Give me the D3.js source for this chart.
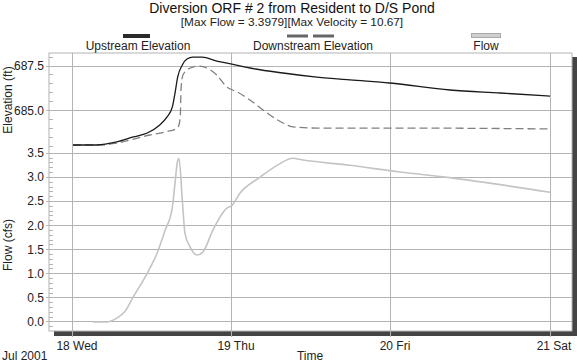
<!DOCTYPE html>
<html lang="en">
<head>
<meta charset="UTF-8">
<title>Diversion ORF # 2</title>
<style>
  body { margin: 0; background: #fff; }
  svg { display: block; font-family: "Liberation Sans", Arial, sans-serif; }
</style>
</head>
<body>
<div id="chart"></div>
<script src="https://cdn.jsdelivr.net/npm/d3@7/dist/d3.min.js"></script>
<script>
"use strict";

// hours after 18 Jul 2001 00:00
var upHours   = [0, 3.6, 6.6, 9.1, 11.2, 13.1, 14.2, 15.0, 15.4, 15.8, 16.5, 17.2, 18.1, 19.5, 21.7, 24.0, 26.7, 31.7, 36.8, 41.8, 47.8, 56.9, 64.5, 72.0];
var upElev    = [683.08, 683.08, 683.25, 683.53, 683.75, 684.20, 684.65, 685.21, 685.99, 686.88, 687.56, 687.89, 688.00, 688.00, 687.78, 687.61, 687.39, 687.11, 686.88, 686.72, 686.55, 686.16, 685.99, 685.82];

var downHours = [0, 4.1, 6.6, 11.6, 13.9, 15.8, 16.2, 16.3, 16.6, 17.7, 18.9, 20.2, 21.7, 23.2, 24.8, 26.7, 29.3, 31.7, 33.2, 36.8, 48.3, 72.0];
var downElev  = [683.08, 683.08, 683.19, 683.64, 683.81, 684.03, 684.65, 686.16, 687.00, 687.39, 687.50, 687.39, 687.00, 686.33, 686.05, 685.60, 684.87, 684.31, 684.09, 684.03, 684.03, 683.98];

var flowHours = [3.0, 5.1, 6.6, 7.8, 9.1, 11.2, 12.7, 13.9, 15.0, 15.4, 15.8, 16.0, 16.5, 16.9, 17.7, 18.7, 19.6, 21.1, 23.2, 24.0, 25.2, 28.2, 30.8, 33.2, 34.3, 41.8, 49.4, 56.5, 72.0];
var flowVals  = [0, 0, 0.08, 0.21, 0.52, 1.01, 1.43, 1.90, 2.38, 2.88, 3.35, 3.39, 2.53, 1.84, 1.55, 1.39, 1.45, 1.90, 2.36, 2.42, 2.67, 3.00, 3.25, 3.398, 3.37, 3.25, 3.11, 3.00, 2.69];

var elevTicks = [685.0, 687.5];
var flowTicks = [0, 0.5, 1, 1.5, 2, 2.5, 3, 3.5];
var dayTicks  = [18, 19, 20, 21];

var legendNames = ["Upstream Elevation", "Downstream Elevation", "Flow"];

(function() {

    var W = 577, H = 362;
    var pLeft = 49, pRight = 572, pTop = 53, pSplit = 150, pBottom = 331;

    var t0 = new Date(2001, 6, 18);
    function toDate(h) { return new Date(t0.getTime() + h * 3600000); }

    var svg = d3.select("#chart").append("svg")
        .attr("width", W)
        .attr("height", H);

    var x = d3.scaleTime()
        .domain([toDate(-3.62), toDate(75.32)])
        .range([pLeft, pRight]);

    var yElev = d3.scaleLinear()
        .domain([682.80, 688.23])
        .range([pSplit, pTop]);

    var yFlow = d3.scaleLinear()
        .domain([-0.187, 3.568])
        .range([pBottom, pSplit]);

    // shadow
    svg.append("rect").attr("x", pLeft + 5).attr("y", pBottom).attr("width", pRight - pLeft + 5).attr("height", 5).attr("fill", "#444");
    svg.append("rect").attr("x", pRight).attr("y", pTop + 4).attr("width", 5).attr("height", pBottom - pTop + 1).attr("fill", "#444");

    // frame
    svg.append("rect")
        .attr("x", pLeft).attr("y", pTop)
        .attr("width", pRight - pLeft).attr("height", pBottom - pTop)
        .attr("fill", "#fff").attr("stroke", "#b4b4b4").attr("stroke-width", 1);

    var grid = svg.append("g").attr("stroke", "#b4b4b4").attr("stroke-width", 1).attr("shape-rendering", "crispEdges");

    // horizontal grid
    elevTicks.forEach(function(v) {
        grid.append("line").attr("x1", pLeft - 3).attr("x2", pRight).attr("y1", yElev(v)).attr("y2", yElev(v));
    });
    flowTicks.forEach(function(v) {
        grid.append("line").attr("x1", pLeft - 3).attr("x2", pRight).attr("y1", yFlow(v)).attr("y2", yFlow(v));
    });

    // minor ticks
    d3.range(683.0, 688.01, 0.5).forEach(function(v) {
        grid.append("line").attr("x1", pLeft).attr("x2", pLeft + 4).attr("y1", yElev(v)).attr("y2", yElev(v));
    });
    d3.range(-1, 36).forEach(function(i) {
        var v = i / 10;
        grid.append("line").attr("x1", pLeft).attr("x2", pLeft + 4).attr("y1", yFlow(v)).attr("y2", yFlow(v));
    });

    // vertical grid
    var days = dayTicks.map(function(d) { return new Date(2001, 6, d); });
    days.forEach(function(d) {
        grid.append("line").attr("x1", x(d)).attr("x2", x(d)).attr("y1", pTop).attr("y2", pBottom + 6);
    });

    // axis labels
    var lab = svg.append("g").attr("fill", "#222").attr("font-size", 12);
    elevTicks.forEach(function(v) {
        lab.append("text").attr("x", 44).attr("y", yElev(v) + 4).attr("text-anchor", "end").text(v.toFixed(1));
    });
    flowTicks.forEach(function(v) {
        lab.append("text").attr("x", 44).attr("y", yFlow(v) + 4).attr("text-anchor", "end").text(v.toFixed(1));
    });
    var fmt = d3.timeFormat("%-d %a");
    days.forEach(function(d) {
        lab.append("text").attr("x", x(d) + 4).attr("y", 350).attr("text-anchor", "middle").text(fmt(d));
    });
    lab.append("text").attr("x", 2).attr("y", 360).text("Jul 2001");
    lab.append("text").attr("x", 310).attr("y", 360).attr("text-anchor", "middle").text("Time");
    lab.append("text").attr("transform", "translate(12,100) rotate(-90)").attr("text-anchor", "middle").text("Elevation (ft)");
    lab.append("text").attr("transform", "translate(12,245) rotate(-90)").attr("text-anchor", "middle").text("Flow (cfs)");

    // title
    svg.append("text").attr("x", 292).attr("y", 13).attr("text-anchor", "middle").attr("font-size", 14).attr("fill", "#111")
        .text("Diversion ORF # 2 from Resident to D/S Pond");
    svg.append("text").attr("x", 292).attr("y", 26).attr("text-anchor", "middle").attr("font-size", 11.8).attr("fill", "#222")
        .text("[Max Flow = 3.3979][Max Velocity = 10.67]");

    // legend
    var legX = [138, 313, 486];
    var lg = svg.append("g").attr("font-size", 12).attr("fill", "#222");
    legendNames.forEach(function(n, i) {
        lg.append("text").attr("x", legX[i]).attr("y", 50).attr("text-anchor", "middle").text(n);
    });
    lg.append("rect").attr("x", 123).attr("y", 34).attr("width", 27).attr("height", 4).attr("fill", "#2a2a2a");
    lg.append("line").attr("x1", 287).attr("x2", 334).attr("y1", 36).attr("y2", 36)
        .attr("stroke", "#666").attr("stroke-width", 3).attr("stroke-dasharray", "21,5");
    lg.append("rect").attr("x", 471.5).attr("y", 33.5).attr("width", 29).attr("height", 4).attr("fill", "#cfcfcf").attr("stroke", "#aaa");

    // series
    var elevLine = d3.line()
        .x(function(d) { return x(toDate(d[0])); })
        .y(function(d) { return yElev(d[1]); })
        .curve(d3.curveMonotoneX);
    var flowLine = d3.line()
        .x(function(d) { return x(toDate(d[0])); })
        .y(function(d) { return yFlow(d[1]); })
        .curve(d3.curveMonotoneX);

    svg.append("path")
        .datum(d3.zip(flowHours, flowVals))
        .attr("d", flowLine)
        .attr("fill", "none").attr("stroke", "#c4c4c4").attr("stroke-width", 1.6);

    svg.append("path")
        .datum(d3.zip(downHours, downElev))
        .attr("d", elevLine)
        .attr("fill", "none").attr("stroke", "#808080").attr("stroke-width", 1.3).attr("stroke-dasharray", "8,4");

    svg.append("path")
        .datum(d3.zip(upHours, upElev))
        .attr("d", elevLine)
        .attr("fill", "none").attr("stroke", "#1a1a1a").attr("stroke-width", 1.3);

})();
</script>
</body>
</html>
